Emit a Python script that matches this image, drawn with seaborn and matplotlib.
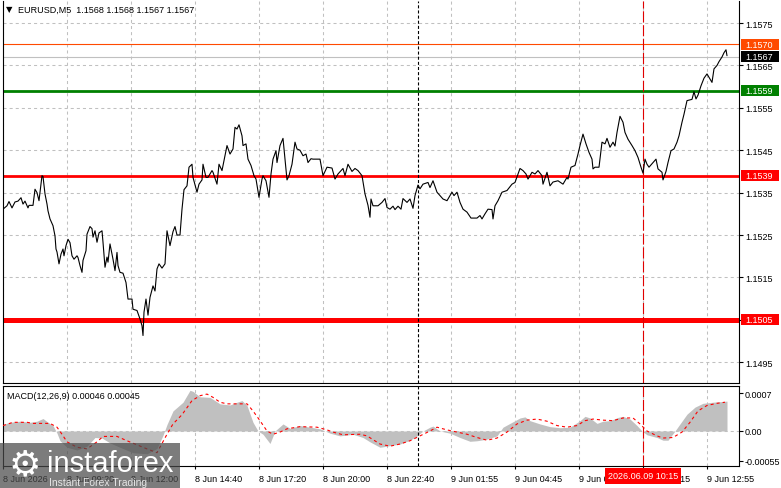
import matplotlib
matplotlib.use("Agg")
import matplotlib.pyplot as plt
import seaborn as sns
from matplotlib.patches import Rectangle

# EURUSD M5 chart with MACD panel.
# t = position along the time axis in half-bar steps (one bar = 2 steps)

price_t = [0, 4, 6, 9, 12, 15, 18, 20, 22, 25, 26, 30, 32, 34, 36, 38, 39, 40, 42, 44,
           45, 47, 50, 52, 53, 54, 56, 58, 60, 61, 63, 65, 67, 69, 71, 74, 75, 77, 79, 80,
           83, 84, 87, 89, 90, 92, 94, 96, 99, 100, 102, 104, 105, 107, 110, 112, 114, 115, 117, 120,
           123, 125, 129, 130, 134, 137, 139, 140, 141, 143, 145, 147, 150, 152, 154, 156, 159, 162, 164, 167,
           170, 172, 174, 177, 179, 181, 184, 186, 189, 190, 194, 196, 199, 200, 203, 205, 209, 210, 214, 216,
           219, 222, 224, 227, 230, 232, 234, 236, 239, 240, 243, 245, 248, 251, 253, 256, 259, 260, 263, 266,
           268, 270, 273, 274, 277, 280, 282, 284, 286, 289, 292, 294, 297, 300, 303, 305, 308, 310, 317, 320,
           324, 329, 332, 335, 340, 342, 345, 349, 352, 355, 359, 362, 365, 367, 368, 370, 375, 379, 382, 384,
           387, 390, 392, 395, 398, 400, 404, 407, 410, 412, 415, 417, 420, 425, 427, 430, 434, 437, 440, 444,
           447, 449, 451, 454, 457, 460, 464, 468, 474, 477, 479, 482, 485, 489, 490, 492, 495, 499, 504, 509,
           512, 515, 517, 520, 523, 525, 529, 532, 535, 539, 540, 544, 547, 550, 555, 560, 564, 565, 568, 572,
           575, 577, 580, 583, 586, 589, 590, 592, 596, 599, 602, 604, 607, 610, 612, 614, 617, 620, 622, 625,
           629, 632, 635, 638, 640, 642, 644, 646, 650, 653, 655, 659, 660, 663, 665, 668, 671, 674, 676, 679,
           681, 684, 689, 691, 693, 695, 698, 701, 704, 706, 709, 711, 714, 716, 719, 721, 723, 724]
price = [1.15311, 1.15319, 1.15329, 1.15314, 1.15328, 1.15330, 1.15338, 1.15323, 1.15330, 1.15314,
         1.15320, 1.15320, 1.15358, 1.15350, 1.15331, 1.15370, 1.15390, 1.15388, 1.15347, 1.15323,
         1.15307, 1.15288, 1.15272, 1.15248, 1.15217, 1.15210, 1.15182, 1.15205, 1.15217, 1.15201,
         1.15225, 1.15240, 1.15232, 1.15201, 1.15193, 1.15201, 1.15197, 1.15178, 1.15162, 1.15190,
         1.15213, 1.15252, 1.15270, 1.15265, 1.15245, 1.15260, 1.15233, 1.15255, 1.15260, 1.15233,
         1.15174, 1.15198, 1.15186, 1.15229, 1.15193, 1.15166, 1.15209, 1.15178, 1.15162, 1.15160,
         1.15138, 1.15099, 1.15099, 1.15075, 1.15072, 1.15052, 1.15036, 1.15013, 1.15068, 1.15099,
         1.15061, 1.15103, 1.15130, 1.15118, 1.15170, 1.15182, 1.15172, 1.15182, 1.15260, 1.15225,
         1.15258, 1.15270, 1.15250, 1.15250, 1.15311, 1.15357, 1.15366, 1.15410, 1.15417, 1.15386,
         1.15351, 1.15370, 1.15380, 1.15417, 1.15386, 1.15386, 1.15402, 1.15398, 1.15370, 1.15417,
         1.15402, 1.15437, 1.15461, 1.15441, 1.15453, 1.15504, 1.15500, 1.15510, 1.15484, 1.15461,
         1.15465, 1.15429, 1.15414, 1.15390, 1.15382, 1.15339, 1.15382, 1.15390, 1.15378, 1.15339,
         1.15394, 1.15429, 1.15449, 1.15421, 1.15461, 1.15478, 1.15429, 1.15380, 1.15390, 1.15417,
         1.15469, 1.15453, 1.15450, 1.15437, 1.15441, 1.15421, 1.15430, 1.15429, 1.15429, 1.15390,
         1.15410, 1.15408, 1.15382, 1.15394, 1.15407, 1.15390, 1.15417, 1.15400, 1.15407, 1.15402,
         1.15390, 1.15347, 1.15320, 1.15292, 1.15335, 1.15319, 1.15319, 1.15327, 1.15336, 1.15315,
         1.15311, 1.15318, 1.15310, 1.15318, 1.15311, 1.15336, 1.15327, 1.15335, 1.15313, 1.15343,
         1.15368, 1.15359, 1.15370, 1.15374, 1.15362, 1.15378, 1.15351, 1.15343, 1.15335, 1.15331,
         1.15343, 1.15351, 1.15343, 1.15351, 1.15327, 1.15311, 1.15304, 1.15290, 1.15290, 1.15296,
         1.15288, 1.15300, 1.15311, 1.15310, 1.15288, 1.15319, 1.15331, 1.15351, 1.15355, 1.15370,
         1.15374, 1.15394, 1.15407, 1.15402, 1.15394, 1.15382, 1.15398, 1.15394, 1.15402, 1.15390,
         1.15370, 1.15398, 1.15366, 1.15375, 1.15378, 1.15370, 1.15386, 1.15382, 1.15410, 1.15414,
         1.15441, 1.15461, 1.15488, 1.15465, 1.15445, 1.15429, 1.15406, 1.15410, 1.15410, 1.15469,
         1.15465, 1.15478, 1.15457, 1.15469, 1.15460, 1.15492, 1.15530, 1.15516, 1.15492, 1.15476,
         1.15461, 1.15449, 1.15433, 1.15410, 1.15396, 1.15429, 1.15417, 1.15410, 1.15421, 1.15429,
         1.15406, 1.15398, 1.15380, 1.15400, 1.15421, 1.15449, 1.15453, 1.15469, 1.15484, 1.15516,
         1.15535, 1.15567, 1.15570, 1.15588, 1.15571, 1.15580, 1.15602, 1.15620, 1.15630, 1.15622,
         1.15610, 1.15642, 1.15650, 1.15659, 1.15670, 1.15680, 1.15687, 1.15673]

hist_t = [0, 7, 17, 27, 34, 40, 45, 50, 54, 57, 64, 74, 84, 92, 99, 107, 117, 130, 144, 154,
          160, 164, 170, 180, 187, 190, 197, 207, 217, 227, 234, 239, 244, 250, 255, 260, 267, 272, 280, 287,
          297, 307, 317, 327, 337, 350, 360, 367, 377, 387, 397, 407, 414, 420, 427, 430, 437, 447, 457, 467,
          474, 484, 494, 500, 507, 517, 522, 527, 537, 547, 557, 567, 577, 582, 587, 594, 600, 607, 615, 620,
          627, 634, 639, 644, 654, 660, 665, 672, 677, 684, 692, 700, 710, 724]
macd_hist = [0.00012, 0.00016, 0.00018, 0.00016, 0.00018, 0.00023, 0.00016, 0.00010, -0.00004, -0.00018,
             -0.00030, -0.00035, -0.00028, -0.00012, -0.00013, -0.00022, -0.00030, -0.00040, -0.00042, -0.00032,
             -0.00008, 0.00012, 0.00037, 0.00053, 0.00075, 0.00073, 0.00063, 0.00062, 0.00050, 0.00048,
             0.00053, 0.00056, 0.00047, 0.00016, 0.0, -0.00006, -0.00023, 0.0, 0.00013, 0.00005,
             0.00010, 0.00007, 0.00004, -0.00004, -0.00009, -0.00006, -0.00012, -0.00020, -0.00030, -0.00027,
             -0.00024, -0.00017, -0.00009, 0.0, 0.00007, 0.00009, 0.0, -0.00004, -0.00012, -0.00019,
             -0.00018, -0.00015, -0.00009, 0.00007, 0.00014, 0.00024, 0.00026, 0.00019, 0.00013, 0.00008,
             0.00006, 0.00007, 0.00019, 0.00027, 0.00024, 0.00014, 0.00018, 0.00019, 0.00025, 0.00027,
             0.00022, 0.00010, 0.0, -0.00007, -0.00012, -0.00017, -0.00017, 0.0, 0.00013, 0.00031,
             0.00044, 0.00051, 0.00053, 0.00055]

signal_t = [0, 10, 24, 30, 47, 54, 59, 64, 74, 84, 94, 100, 114, 124, 144, 154, 164, 170, 179, 189,
            197, 204, 210, 217, 224, 244, 250, 257, 264, 270, 277, 284, 297, 314, 324, 330, 340, 357, 364, 377,
            387, 397, 407, 417, 427, 434, 444, 454, 464, 474, 484, 494, 504, 514, 524, 534, 544, 554, 564, 574,
            582, 590, 600, 610, 620, 630, 637, 644, 654, 660, 670, 679, 687, 695, 704, 714, 722]
macd_signal = [0.00010, 0.00016, 0.00016, 0.00014, 0.00014, 0.00007, -0.00006, -0.00020, -0.00030, -0.00033,
               -0.00020, -0.00010, -0.00010, -0.00018, -0.00033, -0.00040, -0.00006, 0.00013, 0.00030, 0.00056,
               0.00065, 0.00068, 0.00062, 0.00053, 0.00050, 0.00050, 0.00037, 0.00019, 0.0, -0.00006,
               -0.00002, 0.00004, 0.00008, 0.00007, 0.00002, -0.00002, -0.00007, -0.00006, -0.00009, -0.00024,
               -0.00028, -0.00024, -0.00018, -0.00009, 0.0, 0.00007, 0.00002, -0.00002, -0.00006, -0.00012,
               -0.00017, -0.00013, -0.00002, 0.00013, 0.00020, 0.00022, 0.00018, 0.00010, 0.00007, 0.00010,
               0.00019, 0.00022, 0.00020, 0.00019, 0.00024, 0.00024, 0.00013, 0.0, -0.00009, -0.00013,
               -0.00012, -0.00002, 0.00016, 0.00037, 0.00047, 0.00051, 0.00053]

time_ticks = [0, 64, 128, 192, 256, 320, 384, 448, 512, 576, 640, 704]
time_labels = ['8 Jun 2026', '8 Jun 09:20', '8 Jun 12:00', '8 Jun 14:40', '8 Jun 17:20', '8 Jun 20:00',
               '8 Jun 22:40', '9 Jun 01:55', '9 Jun 04:45', '9 Jun 07:35', '9 Jun 10:15', '9 Jun 12:55']
price_ticks = [1.1495, 1.1505, 1.1515, 1.1525, 1.1535, 1.1545, 1.1555, 1.1565, 1.1575]
macd_ticks = [-0.00055, 0.0, 0.0007]
macd_tick_labels = ['-0.00055', '0.00', '0.0007']

# horizontal levels: value, colour, width
levels = [1.1570, 1.1567, 1.1559, 1.1539, 1.1505]
level_colors = ['#ff4a00', '#c0c0c0', '#008000', '#ff0000', '#ff0000']
level_box_colors = ['#ff4a00', '#000000', '#008000', '#ff0000', '#ff0000']
level_widths = [0.8, 0.8, 2.0, 2.0, 3.6]

sns.set_theme(style="white")
plt.rcParams['font.family'] = ['Liberation Sans', 'DejaVu Sans']
plt.rcParams['lines.scale_dashes'] = False

W, H = 781, 489
fig = plt.figure(figsize=(W / 100, H / 100), dpi=100)
ax = fig.add_axes([3 / W, 1 - 384 / H, 736 / W, 382 / H])
axm = fig.add_axes([3 / W, 1 - 467 / H, 736 / W, 80 / H])

grid_kw = dict(color='#c0c0c0', linewidth=0.75, linestyle=(0, (2.2, 2.2)))
fs = 6.5

# --- price panel ---
ax.set_xlim(0, 736)
ax.set_ylim(1.14901, 1.15802)
ax.set_xticks(time_ticks)
ax.set_yticks(price_ticks)
ax.set_yticklabels([f'{v:.4f}' for v in price_ticks])
ax.grid(True, **grid_kw)
ax.set_axisbelow(True)
ax.yaxis.tick_right()
ax.tick_params(axis='x', length=0, labelbottom=False)
ax.tick_params(axis='y', right=True, left=False, length=3, width=0.8, pad=1.5,
               labelsize=fs, colors='black')
for s in ['left', 'right', 'bottom']:
    ax.spines[s].set_color('black')
    ax.spines[s].set_linewidth(0.8)
ax.spines['top'].set_visible(False)

for v, c, w in zip(levels, level_colors, level_widths):
    ax.axhline(v, color=c, linewidth=w, zorder=2)

sns.lineplot(x=price_t, y=price, ax=ax, color='black', linewidth=0.8, zorder=3)
ax.set_xlim(0, 736)
ax.set_xlabel('')
ax.set_ylabel('')

box_h = 11 / 42.4 * 0.001
ytr = ax.get_yaxis_transform()
for v, c in zip(levels, level_box_colors):
    ax.add_patch(Rectangle((1.0027, v - box_h / 2), 0.052, box_h, transform=ytr,
                           facecolor=c, edgecolor='none', clip_on=False, zorder=5))
    ax.text(1.0085, v, f'{v:.4f}', transform=ytr, color='white', fontsize=fs,
            ha='left', va='center', clip_on=False, zorder=6)

ax.axvline(415, color='black', linewidth=0.8, linestyle=(0, (2.2, 1.5)), zorder=2)
ax.axvline(640, color='#e00000', linewidth=0.8, linestyle=(0, (8, 2)), zorder=2)

# --- MACD panel ---
axm.fill_between(hist_t, 0, macd_hist, color='#c0c0c0', linewidth=0, zorder=2)
sns.lineplot(x=signal_t, y=macd_signal, ax=axm, color='#ff0000', linewidth=0.8,
             linestyle=(0, (2.2, 2.2)), zorder=3)
axm.set_xlim(0, 736)
axm.set_ylim(-0.000645, 0.000829)
axm.set_xlabel('')
axm.set_ylabel('')
axm.set_xticks(time_ticks)
axm.set_xticklabels(time_labels, ha='left')
axm.grid(True, axis='x', **grid_kw)
axm.axhline(0, **grid_kw, zorder=1)
axm.set_axisbelow(True)
axm.yaxis.tick_right()
axm.set_yticks(macd_ticks)
axm.set_yticklabels(macd_tick_labels)
axm.tick_params(axis='y', right=True, left=False, length=3, width=0.8, pad=1,
                labelsize=fs, colors='black')
axm.tick_params(axis='x', bottom=True, length=2, width=0.8, pad=3.5, labelsize=fs,
                colors='black')
for s in axm.spines.values():
    s.set_color('black')
    s.set_linewidth(0.8)
axm.axvline(415, color='black', linewidth=0.8, linestyle=(0, (2.2, 1.5)), zorder=4)
axm.axvline(640, color='#e00000', linewidth=0.8, linestyle=(0, (8, 2)), zorder=4)
axm.text(0.006, 0.88, 'MACD(12,26,9) 0.00046 0.00045', transform=axm.transAxes,
         fontsize=fs, ha='left', va='center', color='black')

# --- header and marker labels ---
fig.text(9 / W, 1 - 10 / H, '▼', fontsize=6, ha='center', va='center', color='black',
         family=['DejaVu Sans'])
fig.text(18 / W, 1 - 10 / H, 'EURUSD,M5  1.1568 1.1568 1.1567 1.1567', fontsize=fs,
         ha='left', va='center', color='black')
fig.text(643 / W, 1 - 477 / H, '2026.06.09 10:15', fontsize=fs, ha='center', va='center',
         color='white', bbox=dict(boxstyle='square,pad=0.35', facecolor='#ff0000', edgecolor='none'))

# --- watermark ---
fig.patches.append(Rectangle((0, 0), 180 / W, 45 / H, transform=fig.transFigure,
                             facecolor='#4a4a4a', alpha=0.72, edgecolor='none', zorder=10))
fig.text(25 / W, 1 - 465 / H, '⚙', fontsize=26, ha='center', va='center', color='white',
         family=['DejaVu Sans'], zorder=11)
fig.text(47 / W, 1 - 472 / H, 'instaforex', fontsize=21, ha='left', va='baseline',
         color='white', zorder=11)
fig.text(49 / W, 1 - 486 / H, 'Instant Forex Trading', fontsize=7.5, ha='left',
         va='baseline', color='#e6e6e6', zorder=11)

fig.savefig('out.png', dpi=100)
